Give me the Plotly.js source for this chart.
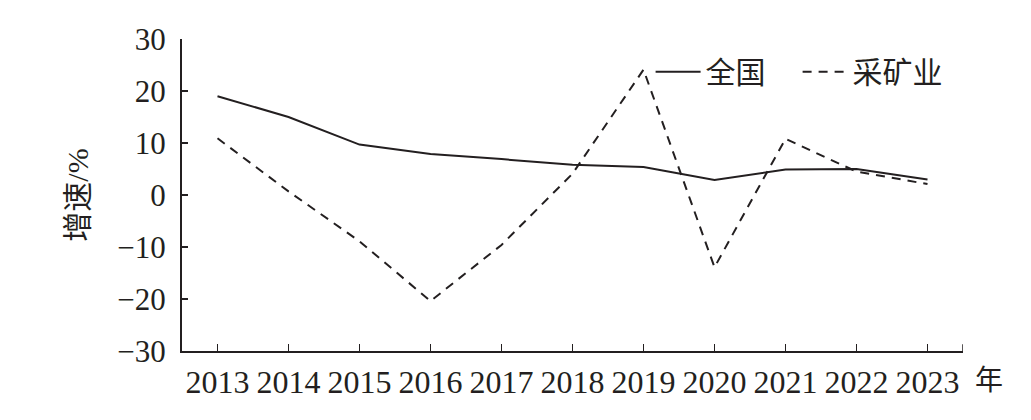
<!DOCTYPE html>
<html>
<head>
<meta charset="utf-8">
<script src="https://cdn.plot.ly/plotly-3.0.1.min.js"></script>
<style>html,body{margin:0;padding:0;background:#fff;}#chart{width:1031px;height:420px;}</style>
</head>
<body>
<div id="chart"></div>
<script>
const years = ['2013','2014','2015','2016','2017','2018','2019','2020','2021','2022','2023'];
const national = [19.0, 15.0, 9.7, 7.9, 6.9, 5.8, 5.4, 2.9, 4.9, 5.0, 3.0];
const mining = [10.9, 0.7, -8.9, -20.4, -9.6, 4.1, 24.1, -13.9, 10.8, 4.5, 2.1];
const seriesNames = ['全国', '采矿业'];
const yTicks = [-30, -20, -10, 0, 10, 20, 30];

const ink = '#231f20';
const fontFamily = '"Liberation Serif", "Noto Sans CJK SC", serif';

const traces = [
  {x: years, y: national, name: seriesNames[0], type: 'scatter', mode: 'lines',
   line: {color: ink, width: 2}},
  {x: years, y: mining, name: seriesNames[1], type: 'scatter', mode: 'lines',
   line: {color: ink, width: 2, dash: '9px,7px'}}
];

const layout = {
  width: 1031, height: 420,
  margin: {l: 182, r: 68, t: 39, b: 69},
  paper_bgcolor: '#fff', plot_bgcolor: '#fff',
  font: {family: fontFamily, color: ink, size: 31},
  showlegend: true,
  legend: {orientation: 'h', x: 0.6, xanchor: 'left', y: 0.895, yanchor: 'middle',
           font: {size: 30, family: fontFamily, color: ink}, bgcolor: 'rgba(0,0,0,0)',
           itemwidth: 45, entrywidth: 87, entrywidthmode: 'pixels', tracegroupgap: 0},
  xaxis: {type: 'category', range: [-0.5, 10.5], showline: true, linecolor: ink, linewidth: 2,
          ticks: 'inside', ticklen: 7, tickwidth: 1.5, tickcolor: ink, showgrid: false, zeroline: false,
          tickfont: {size: 32, family: fontFamily, color: ink}, ticklabelstandoff: 2,
          tickmode: 'array', tickvals: years, ticktext: years, fixedrange: true},
  yaxis: {range: [-30, 30], showline: true, linecolor: ink, linewidth: 2,
          ticks: 'inside', ticklen: 6, tickwidth: 1.5, tickcolor: ink, showgrid: false, zeroline: false,
          tickmode: 'array', tickvals: yTicks,
          tickfont: {size: 31, family: fontFamily, color: ink}, ticklabelstandoff: 8,
          title: {text: '增速/%', font: {size: 30, family: fontFamily, color: ink}, standoff: 20},
          fixedrange: true},
  shapes: [
    {type: 'line', xref: 'x', yref: 'paper', x0: 10.5, x1: 10.5, y0: 0, y1: 0.022,
     line: {color: ink, width: 1.5}}
  ],
  annotations: [
    {text: '年', xref: 'paper', yref: 'paper', x: 1.033, y: -0.093, showarrow: false,
     xanchor: 'center', yanchor: 'middle', font: {size: 28, family: fontFamily, color: ink}}
  ]
};

Plotly.newPlot('chart', traces, layout, {staticPlot: true, displayModeBar: false});
</script>
</body>
</html>
